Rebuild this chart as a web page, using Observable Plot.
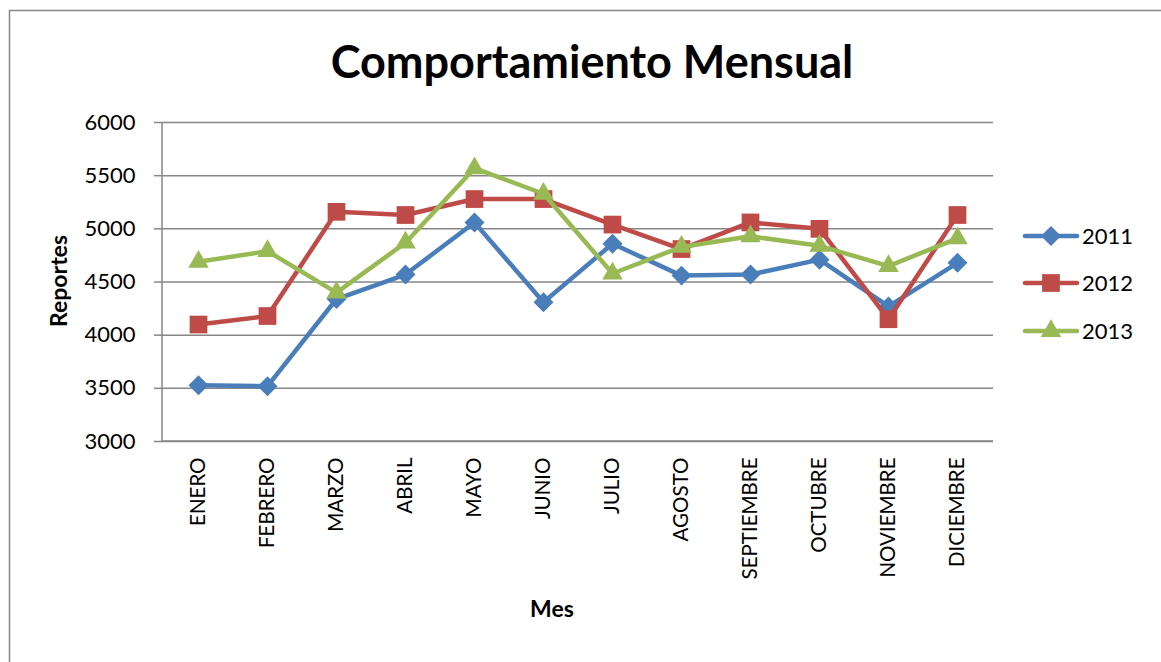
<!DOCTYPE html>
<html>
<head>
<meta charset="utf-8">
<script src="https://cdn.jsdelivr.net/npm/d3@7"></script>
<script src="https://cdn.jsdelivr.net/npm/@observablehq/plot@0.6"></script>
<style>
  html, body { margin: 0; padding: 0; background: #fff; overflow: hidden; }
  #chart { width: 1161px; height: 662px; }
  #chart svg { display: block; max-width: none; font-family: Lato, "Open Sans", sans-serif; }
</style>
</head>
<body>
<div id="chart"></div>
<script>
const months = ["ENERO","FEBRERO","MARZO","ABRIL","MAYO","JUNIO","JULIO","AGOSTO","SEPTIEMBRE","OCTUBRE","NOVIEMBRE","DICIEMBRE"];
const years = ["2011","2012","2013"];
const values2011 = [3530, 3520, 4340, 4570, 5060, 4310, 4860, 4560, 4570, 4710, 4270, 4680];
const values2012 = [4100, 4180, 5160, 5130, 5280, 5280, 5040, 4810, 5060, 5000, 4150, 5130];
const values2013 = [4690, 4790, 4400, 4870, 5570, 5330, 4580, 4830, 4930, 4840, 4650, 4910];
const yTicks = [3000, 3500, 4000, 4500, 5000, 5500, 6000];
const colors = ["#4A7EBB", "#BE4B48", "#98B954"];
const symbols = ["diamond2", "square", "triangle"];
const radii = [9, 10, 7.6];

const series = [values2011, values2012, values2013];
const rows = [];
series.forEach((vals, k) => vals.forEach((v, i) => rows.push({month: months[i], year: years[k], value: v})));

const W = 1161, H = 662;
const mL = 162, mR = 168, mT = 122, mB = 221;

const marks = [
  Plot.gridY(yTicks, {stroke: "#868686", strokeOpacity: 1, strokeWidth: 1.5}),
  Plot.axisY(yTicks, {tickSize: 8, tickPadding: 19, stroke: "#868686", strokeWidth: 1.5, fill: "#000", fontSize: 22, label: null, tickFormat: d => String(d)}),
  Plot.axisX({tickRotate: -90, tickSize: 0, tickPadding: 16, textAnchor: "end", fill: "#000", fontSize: 20.5, label: null}),
];
years.forEach((yr, k) => {
  const d = rows.filter(r => r.year === yr);
  marks.push(Plot.line(d, {x: "month", y: "value", stroke: "year", strokeWidth: 4.5, strokeLinejoin: "round", strokeLinecap: "round"}));
  marks.push(Plot.dot(d, {x: "month", y: "value", symbol: "year", fill: "year", r: radii[k], stroke: "none"}));
});

const chart = Plot.plot({
  width: W, height: H,
  marginLeft: mL, marginRight: mR, marginTop: mT, marginBottom: mB,
  style: {fontFamily: "Lato, 'Open Sans', sans-serif", background: "#fff", overflow: "visible"},
  x: {type: "point", domain: months, padding: 0.5, axis: null},
  y: {domain: [3000, 6000], axis: null},
  color: {domain: years, range: colors},
  symbol: {domain: years, range: symbols},
  marks
});

const svg = d3.select(chart);
const yS = chart.scale("y");
const y0 = yS.apply(3000), y1 = yS.apply(6000);
// axis lines (left and bottom), inserted under the data
const firstLine = svg.select("g[aria-label='line']").node();
svg.insert("line", () => firstLine)
  .attr("x1", mL).attr("x2", W - mR).attr("y1", y0).attr("y2", y0)
  .attr("stroke", "#868686").attr("stroke-width", 1.5);
svg.insert("line", () => firstLine)
  .attr("x1", mL).attr("x2", mL).attr("y1", y1).attr("y2", y0)
  .attr("stroke", "#868686").attr("stroke-width", 1.5);

// outer border
svg.insert("rect", ":first-child")
  .attr("x", 9.5).attr("y", 10.5).attr("width", W + 20).attr("height", H + 20)
  .attr("fill", "none").attr("stroke", "#868686").attr("stroke-width", 1.5);

// title
svg.append("text").text("Comportamiento Mensual")
  .attr("x", 592).attr("y", 78).attr("text-anchor", "middle")
  .attr("font-size", 45).attr("font-weight", "bold").attr("fill", "#000");

// axis titles
svg.append("text").text("Reportes")
  .attr("transform", "translate(67,281) rotate(-90)").attr("text-anchor", "middle")
  .attr("font-size", 23).attr("font-weight", "bold").attr("fill", "#000");
svg.append("text").text("Mes")
  .attr("x", 552).attr("y", 617).attr("text-anchor", "middle")
  .attr("font-size", 23).attr("font-weight", "bold").attr("fill", "#000");

// legend
const d3sym = {diamond2: d3.symbolDiamond2, square: d3.symbolSquare, triangle: d3.symbolTriangle};
const legY = [236, 283, 331];
years.forEach((yr, k) => {
  const g = svg.append("g").attr("transform", `translate(0,${legY[k]})`);
  g.append("line").attr("x1", 1025).attr("x2", 1077).attr("y1", 0).attr("y2", 0)
    .attr("stroke", colors[k]).attr("stroke-width", 4.5).attr("stroke-linecap", "round");
  g.append("path").attr("transform", "translate(1051,0)")
    .attr("d", d3.symbol(d3sym[symbols[k]], Math.PI * radii[k] * radii[k])())
    .attr("fill", colors[k]);
  g.append("text").text(yr).attr("x", 1082).attr("y", 0).attr("dy", "0.35em")
    .attr("text-anchor", "start")
    .attr("font-size", 22).attr("fill", "#000");
});

document.getElementById("chart").appendChild(chart);
</script>
</body>
</html>
